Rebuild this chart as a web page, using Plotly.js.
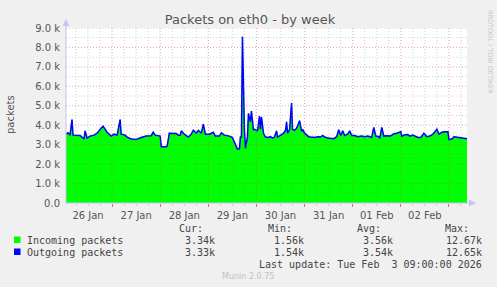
<!DOCTYPE html>
<html>
<head>
<meta charset="utf-8">
<script src="https://cdn.plot.ly/plotly-3.0.1.min.js"></script>
<style>html,body{margin:0;padding:0;background:#f0f0f0;}#chart{width:497px;height:287px;}</style>
</head>
<body>
<div id="chart"></div>
<script>
// ---- data (hours after 26 Jan 2026 01:00, packets/s) ----
const startTime = "2026-01-26 01:00:00";
const endTime = "2026-02-03 09:00:00";
const hoursFromStart = [
 0,1,2,3,3.5,5,7,9,9.5,10.5,
 12,14,15.5,17.5,18.5,20.5,22.5,24,25.5,27,
 27.5,29.5,30.5,32.5,35,37.5,40,42.5,43.5,44.5,
 47,47.5,50,50.5,51.5,55,56,57,57.5,59,
 61,62.5,63.5,65,66,67.5,68.5,69.5,71.5,73.5,
 74.5,76.5,77.5,79,81.5,83,84.5,85.5,86.5,87,
 87.5,88,89,89.5,90.5,91,92,92.5,93.5,94,
 95,95.5,96.5,97,97.5,98.5,99.5,101,102,103,
 104,105,105.5,106.5,107.5,108.5,109.5,110,110.5,111.5,
 112.5,113,114,115,116,116.5,117.5,118,119,120,
 121,122,124,125.5,127,128,129,130.5,132.5,133.5,
 135,136,137,138,139,140.5,141.5,142.5,144,145.5,
 147.5,149,150.5,151.5,152.5,153.5,154.5,156,156.5,157.5,
 158.5,160,161.5,162.5,163.5,165,165.5,167,167.5,169,
 170.5,171.5,173,174,175.5,177,178.5,180,181.5,183,
 185,186,187.5,189,190.5,191,192.5,193.5,195,196.5,
 198,200
];
const incoming = [
 3550,3620,3500,4300,3500,3500,3480,3300,3720,3350,
 3450,3500,3600,3850,3960,3650,3450,3550,3500,4300,
 3550,3500,3400,3300,3280,3380,3450,3470,3650,3500,
 3450,2900,2900,2950,3590,3580,3500,3500,3720,3550,
 3400,3550,3750,3600,3750,3600,4070,3550,3550,3650,
 3450,3450,3620,3500,3450,3380,3000,2780,2800,3400,
 3400,8570,3760,2830,3400,4620,4190,4740,3760,3800,
 3760,3700,4480,3800,4430,3590,3400,3380,3420,3350,
 3400,3720,3400,3450,3520,3600,3750,4190,3600,3780,
 5150,3800,3750,3850,4100,4240,3700,3800,3600,3500,
 3420,3400,3380,3420,3400,3480,3400,3350,3350,3320,
 3420,3780,3480,3720,3480,3550,3720,3480,3480,3420,
 3450,3420,3450,3400,3380,3900,3450,3420,3330,3900,
 3450,3470,3450,3500,3570,3600,3620,3680,3450,3520,
 3530,3450,3500,3450,3380,3380,3600,3420,3450,3550,
 3800,3550,3650,3680,3680,3270,3300,3420,3400,3380,
 3350,3320
];
const outgoing = [
 3540,3610,3490,4290,3490,3490,3470,3290,3710,3340,
 3440,3490,3590,3840,3950,3640,3440,3540,3490,4290,
 3540,3490,3390,3290,3270,3370,3440,3460,3640,3490,
 3440,2890,2890,2940,3580,3570,3490,3490,3710,3540,
 3390,3540,3740,3590,3740,3590,4060,3540,3540,3640,
 3440,3440,3610,3490,3440,3370,2990,2770,2790,3390,
 3390,8550,3750,2820,3390,4610,4180,4730,3750,3790,
 3750,3690,4470,3790,4420,3580,3390,3370,3410,3340,
 3390,3710,3390,3440,3510,3590,3740,4180,3590,3770,
 5140,3790,3740,3840,4090,4230,3690,3790,3590,3490,
 3410,3390,3370,3410,3390,3470,3390,3340,3340,3310,
 3410,3770,3470,3710,3470,3540,3710,3470,3470,3410,
 3440,3410,3440,3390,3370,3890,3440,3410,3320,3890,
 3440,3460,3440,3490,3560,3590,3610,3670,3440,3510,
 3520,3440,3490,3440,3370,3370,3590,3410,3440,3540,
 3790,3540,3640,3670,3670,3260,3290,3410,3390,3370,
 3340,3310
];
const yTickVals = [0,1000,2000,3000,4000,5000,6000,7000,8000,9000];
const yTickText = ["0.0","1.0 k","2.0 k","3.0 k","4.0 k","5.0 k","6.0 k","7.0 k","8.0 k","9.0 k"];
const seriesNames = ["Incoming packets","Outgoing packets"];
const seriesColors = ["#00ff00","#0000ff"];
const curVals = ["3.34k","3.33k"];
const minVals = ["1.56k","1.54k"];
const avgVals = ["3.56k","3.54k"];
const maxVals = ["12.67k","12.65k"];
const lastUpdate = "Last update: Tue Feb  3 09:00:00 2026";

// ---- build ----
const W = 497, H = 287, L = 66, R = 30, T = 28, B = 84;
const pw = W - L - R, ph = H - T - B;
const P = x => (x - L) / pw;
const Q = y => (H - B - y) / ph;
const startMs = Date.UTC(2026,0,26,1,0,0);
const toStr = ms => new Date(ms).toISOString().replace('T',' ').slice(0,19);
const times = hoursFromStart.map(h => toStr(startMs + h*3600000));

const traces = [
  {x: times, y: incoming, type:'scatter', mode:'lines', fill:'tozeroy',
   fillcolor:'#00ff00', line:{color:'#00ff00', width:0.5}, hoverinfo:'skip'},
  {x: times, y: outgoing, type:'scatter', mode:'lines',
   line:{color:'#0000ff', width:1.5}, hoverinfo:'skip'}
];

const shapes = [];
const dotted = '1px,2px';
for (let v = 500; v <= 9000; v += 500) {
  const major = v % 1000 === 0;
  shapes.push({type:'line', layer:'above', xref:'paper', yref:'y', x0:0, x1:1, y0:v, y1:v,
    line:{color: major ? 'rgba(220,70,70,0.5)' : 'rgba(120,120,120,0.35)', width:1, dash:dotted}});
}
for (let h = 5; h < 200; h += 6) {
  const ms = startMs + h*3600000;
  const major = new Date(ms).getUTCHours() === 0;
  shapes.push({type:'line', layer:'above', xref:'x', yref:'paper', x0:toStr(ms), x1:toStr(ms), y0:0, y1:1,
    line:{color: major ? 'rgba(220,70,70,0.5)' : 'rgba(120,120,120,0.35)', width:1, dash:dotted}});
}
const axisCol = '#c4c4ee';
shapes.push({type:'line', layer:'above', xref:'paper', yref:'paper', x0:P(66), x1:P(66), y0:Q(203), y1:Q(22), line:{color:axisCol, width:1}});
shapes.push({type:'line', layer:'above', xref:'paper', yref:'paper', x0:P(66), x1:P(471), y0:Q(203), y1:Q(203), line:{color:axisCol, width:1}});
shapes.push({type:'path', layer:'above', xref:'paper', yref:'paper', fillcolor:axisCol, line:{width:0},
  path:`M ${P(62.5)} ${Q(26)} L ${P(69.5)} ${Q(26)} L ${P(66)} ${Q(19)} Z`});
shapes.push({type:'path', layer:'above', xref:'paper', yref:'paper', fillcolor:axisCol, line:{width:0},
  path:`M ${P(469)} ${Q(199.5)} L ${P(469)} ${Q(206.5)} L ${P(476)} ${Q(203)} Z`});
// legend squares
seriesColors.forEach((c, i) => {
  const cy = 240 + i*12;
  shapes.push({type:'rect', xref:'paper', yref:'paper', x0:P(14), x1:P(20.5), y0:Q(cy+3), y1:Q(cy-3.5),
    fillcolor:c, line:{width:0}});
});

const mono = {family:'DejaVu Sans Mono', size:10, color:'#444'};
const ann = [];
const A = (text, x, y, xanchor, font, extra) => ann.push(Object.assign({text, x:P(x), y:Q(y), xref:'paper', yref:'paper',
  xanchor, yanchor:'middle', showarrow:false, borderpad:0, font}, extra || {}));
A('Cur:', 204, 228, 'right', mono);
A('Min:', 293, 228, 'right', mono);
A('Avg:', 382, 228, 'right', mono);
A('Max:', 470, 228, 'right', mono);
seriesNames.forEach((n, i) => {
  const y = 240 + i*12;
  A(n, 25.5, y, 'left', mono);
  A(curVals[i], 216, y, 'right', mono);
  A(minVals[i], 305, y, 'right', mono);
  A(avgVals[i], 394, y, 'right', mono);
  A(maxVals[i], 483, y, 'right', mono);
});
A(lastUpdate.replace(/ /g, '\u00a0'), 483, 264, 'right', mono);
A('Munin 2.0.75', 248, 276, 'center', {family:'DejaVu Sans', size:8, color:'#c0c0c0'});
A('packets', 10, 115, 'center', {family:'DejaVu Sans', size:10, color:'#555'}, {textangle:-90});
A('RRDTOOL / TOBI OETIKER', 490, 52, 'center', {family:'DejaVu Sans', size:6.5, color:'#c8c8c8'}, {textangle:90});

const layout = {
  width: W, height: H,
  margin: {l:L, r:R, t:T, b:B, pad:0},
  paper_bgcolor:'#f0f0f0', plot_bgcolor:'#ffffff',
  showlegend:false,
  title: {text:'Packets on eth0 - by week', x:0.503, xanchor:'center', y:1-19/H, yanchor:'middle',
    font:{family:'DejaVu Sans', size:13, color:'#555'}},
  xaxis: {type:'date', range:[startTime, endTime], showgrid:false, zeroline:false, showline:false,
    tickmode:'linear', tick0:'2026-01-26 00:00:00', dtick:86400000, ticklabelmode:'period',
    tickformat:'%d %b', ticks:'outside', ticklen:3, tickcolor:'#e07070', tickwidth:1,
    tickfont:{family:'DejaVu Sans', size:10, color:'#555'},
    minor:{dtick:21600000, tick0:'2026-01-26 00:00:00', ticks:'outside', ticklen:2, tickcolor:'#cccccc', showgrid:false}},
  yaxis: {range:[0, 9000], showgrid:false, zeroline:false, showline:false,
    tickmode:'array', tickvals:yTickVals, ticktext:yTickText, ticks:'', ticklabelstandoff:5,
    tickfont:{family:'DejaVu Sans', size:10, color:'#555'}},
  shapes: shapes,
  annotations: ann
};
Plotly.newPlot('chart', traces, layout, {staticPlot:true, displayModeBar:false});
</script>
</body>
</html>
